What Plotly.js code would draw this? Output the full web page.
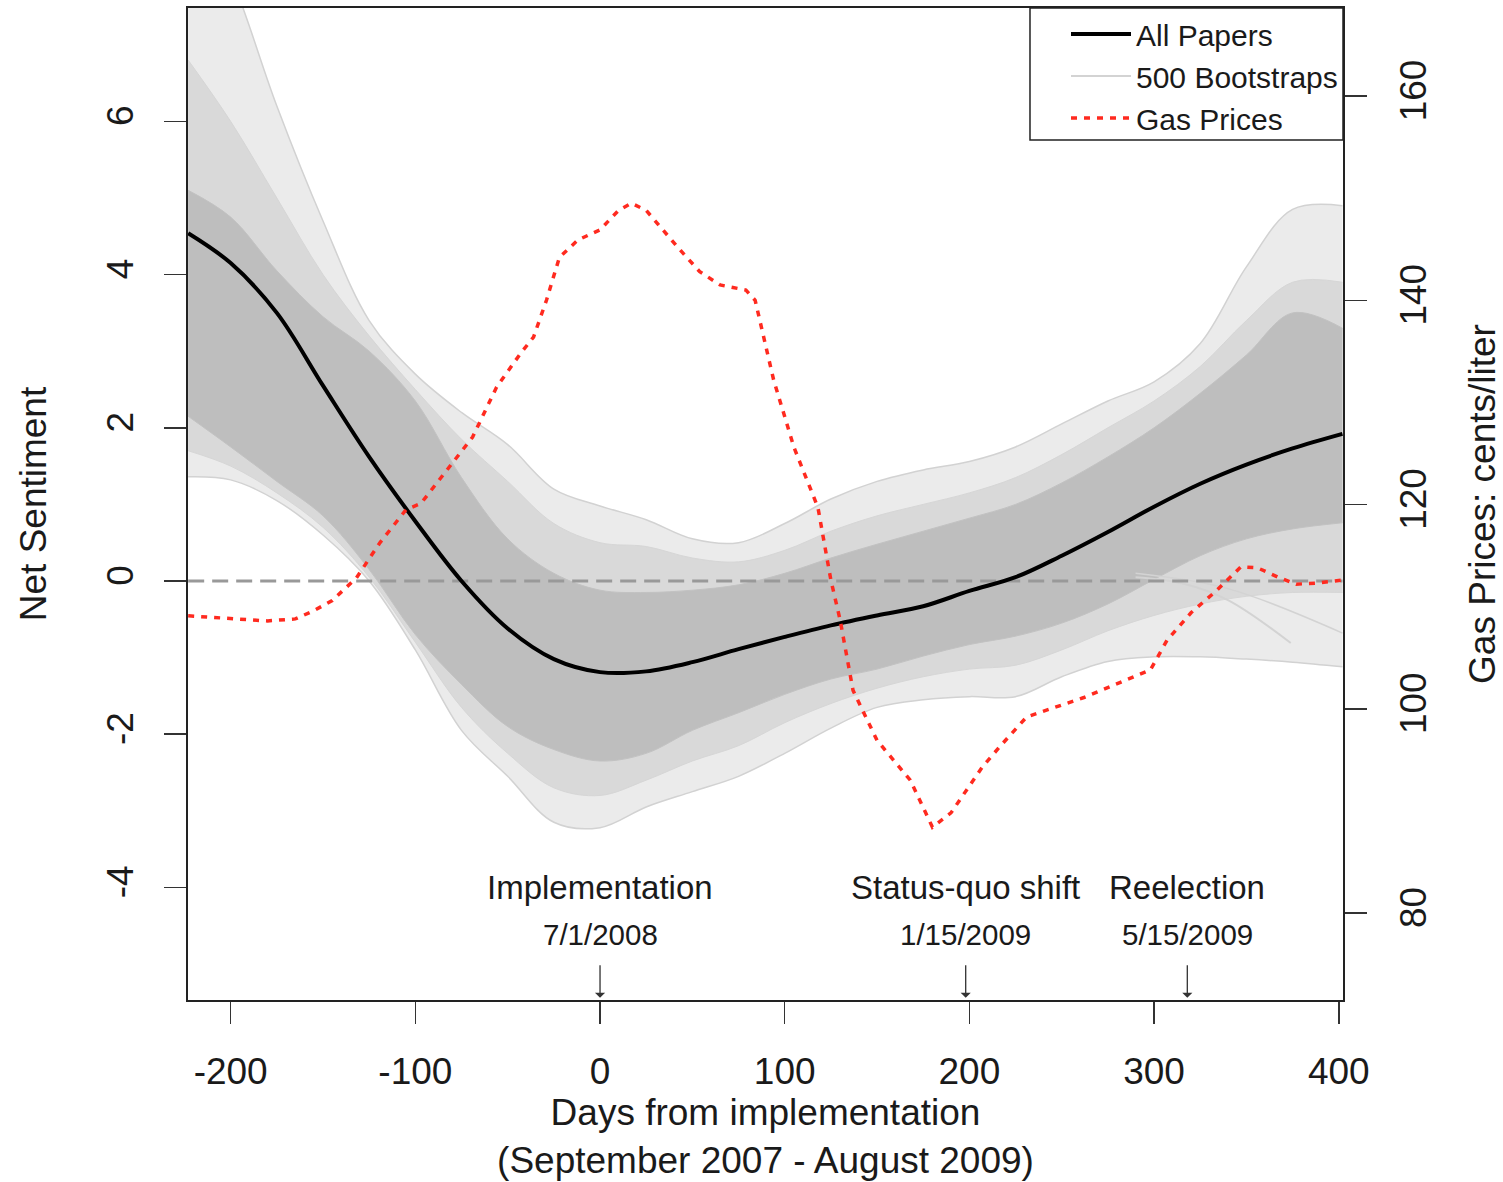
<!DOCTYPE html>
<html>
<head>
<meta charset="utf-8">
<script src="https://cdn.plot.ly/plotly-3.0.1.min.js"></script>
<style>html,body{margin:0;padding:0;background:#fff;}#chart{width:1503px;height:1182px;}</style>
</head>
<body>
<div id="chart"></div>
<script>
// ---- Data ----
// Common day grid (days from implementation)
var dayGrid = [-223, -200, -175, -150, -125, -100, -75, -50, -25, 0, 25, 50, 75, 100, 125, 150, 175, 200, 225, 250, 275, 300, 325, 350, 375, 402];

// "All Papers" smoothed net sentiment
var allPapers = [4.54, 4.15, 3.50, 2.55, 1.62, 0.78, 0.00, -0.62, -1.02, -1.19, -1.18, -1.06, -0.89, -0.73, -0.58, -0.45, -0.33, -0.13, 0.05, 0.33, 0.64, 0.97, 1.27, 1.52, 1.73, 1.92];

// Bootstrap curves: envelopes of the dense core, of the fairly dense light curves, and of the outermost curves
var bootCoreUpper  = [5.10, 4.75, 4.05, 3.45, 3.00, 2.35, 1.35, 0.55, 0.10, -0.12, -0.15, -0.12, -0.05, 0.10, 0.30, 0.48, 0.65, 0.82, 1.00, 1.28, 1.62, 2.00, 2.45, 2.95, 3.50, 3.30];
var bootCoreLower  = [2.15, 1.75, 1.30, 0.85, 0.15, -0.70, -1.35, -1.90, -2.20, -2.35, -2.25, -1.95, -1.72, -1.48, -1.28, -1.15, -0.98, -0.83, -0.72, -0.55, -0.30, 0.02, 0.33, 0.55, 0.68, 0.76];
var bootMidUpper   = [6.80, 6.00, 5.00, 4.00, 3.20, 2.50, 1.85, 1.30, 0.75, 0.50, 0.45, 0.30, 0.25, 0.40, 0.65, 0.85, 1.00, 1.15, 1.35, 1.65, 2.00, 2.35, 2.80, 3.40, 3.90, 3.90];
var bootMidLower   = [1.70, 1.50, 1.15, 0.70, 0.05, -0.80, -1.65, -2.25, -2.70, -2.80, -2.60, -2.35, -2.15, -1.85, -1.60, -1.40, -1.25, -1.15, -1.10, -0.90, -0.65, -0.45, -0.30, -0.20, -0.15, -0.15];
var bootOuterUpper = [9.00, 7.90, 6.20, 4.70, 3.40, 2.70, 2.20, 1.78, 1.20, 0.98, 0.80, 0.55, 0.50, 0.75, 1.07, 1.30, 1.45, 1.56, 1.75, 2.05, 2.35, 2.60, 3.10, 4.10, 4.85, 4.90];
var bootOuterLower = [1.36, 1.32, 1.05, 0.60, 0.00, -0.90, -1.95, -2.55, -3.15, -3.22, -2.95, -2.75, -2.55, -2.25, -1.92, -1.65, -1.55, -1.51, -1.51, -1.25, -1.05, -0.99, -0.99, -1.02, -1.06, -1.12];

// A few individual bootstrap curves visible at the right edge
var bootA_days = [290, 315, 340, 374];
var bootA_vals = [0.05, -0.03, -0.25, -0.81];
var bootB_days = [290, 340, 402];
var bootB_vals = [0.10, -0.10, -0.68];

// Gas prices (cents/liter)
var gasDays  = [-223, -200, -180, -165, -155, -145, -132, -119, -105, -97, -83, -69, -56, -43, -36, -29, -22, -12, 0, 10, 17, 25, 43, 54, 65, 79, 84, 90, 94, 105, 118, 125, 130, 137, 150, 168, 180, 190, 207, 217, 231, 262, 289, 298, 307, 320, 334, 347, 356, 367, 377, 388, 402];
var gasPrice = [109.1, 108.8, 108.6, 108.8, 109.6, 110.6, 112.8, 116.3, 119.5, 120.1, 123.4, 126.6, 131.5, 134.8, 136.4, 140.0, 144.2, 145.9, 146.9, 148.8, 149.5, 148.8, 145.0, 142.8, 141.5, 141.0, 140.0, 135.5, 132.2, 125.6, 119.7, 112.6, 108.7, 101.8, 96.9, 93.0, 88.4, 89.8, 94.3, 96.4, 99.2, 101.1, 103.1, 103.8, 106.7, 109.4, 111.6, 113.9, 113.8, 112.9, 112.2, 112.3, 112.6];

// Events
var eventDays   = [0, 198, 318];
var eventNames  = ['Implementation', 'Status-quo shift', 'Reelection'];
var eventDates  = ['7/1/2008', '1/15/2009', '5/15/2009'];

// Axis ticks (labels with plain hyphen minus, as in the original)
var xTicks  = [-200, -100, 0, 100, 200, 300, 400];
var xTickText = ['-200', '-100', '0', '100', '200', '300', '400'];
var yTicks  = [-4, -2, 0, 2, 4, 6];
var yTickText = ['-4', '-2', '0', '2', '4', '6'];
var y2Ticks = [80, 100, 120, 140, 160];

// ---- Plot ----
var FONT = 'Liberation Sans, Arial, Helvetica, sans-serif';
var TXT = '#1a1a1a';

function band(lower, upper, lineColor, fillColor, w) {
  return [
    {x: dayGrid, y: lower, mode: 'lines', line: {color: lineColor, width: w, shape: 'spline'}, showlegend: false, hoverinfo: 'skip'},
    {x: dayGrid, y: upper, mode: 'lines', line: {color: lineColor, width: w, shape: 'spline'}, fill: 'tonexty', fillcolor: fillColor, showlegend: false, hoverinfo: 'skip'}
  ];
}

var traces = [];
traces = traces.concat(band(bootOuterLower, bootOuterUpper, '#d2d2d2', '#ebebeb', 1.5));
traces = traces.concat(band(bootMidLower, bootMidUpper, '#d6d6d6', '#d9d9d9', 1));
traces = traces.concat(band(bootCoreLower, bootCoreUpper, '#c2c2c2', '#bebebe', 1));
// individual bootstrap curves
traces.push({x: bootA_days, y: bootA_vals, mode: 'lines', name: '500 Bootstraps', legendrank: 2, line: {color: '#d3d3d3', width: 2, shape: 'spline'}, showlegend: true, hoverinfo: 'skip'});
traces.push({x: bootB_days, y: bootB_vals, mode: 'lines', line: {color: '#d3d3d3', width: 1.5, shape: 'spline'}, showlegend: false, hoverinfo: 'skip'});
// zero reference line
traces.push({x: [dayGrid[0], dayGrid[dayGrid.length - 1]], y: [0, 0], mode: 'lines', line: {color: '#999999', width: 3, dash: '16px,8px'}, showlegend: false, hoverinfo: 'skip'});
// all papers
traces.push({x: dayGrid, y: allPapers, mode: 'lines', name: 'All Papers', legendrank: 1, line: {color: '#000', width: 4, shape: 'spline'}});
// gas prices
traces.push({x: gasDays, y: gasPrice, yaxis: 'y2', mode: 'lines', name: 'Gas Prices', legendrank: 3, line: {color: '#ff2a1f', width: 3.5, dash: '6px,7px'}});

var annotations = [];
for (var i = 0; i < eventDays.length; i++) {
  annotations.push({x: eventDays[i], y: -4.0, xref: 'x', yref: 'y', text: eventNames[i], showarrow: false, font: {family: FONT, size: 33, color: TXT}});
  annotations.push({x: eventDays[i], y: -4.62, xref: 'x', yref: 'y', text: eventDates[i], showarrow: false, font: {family: FONT, size: 29.5, color: TXT}});
  annotations.push({x: eventDays[i], y: -5.44, xref: 'x', yref: 'y', text: '', showarrow: true, ax: 0, ay: -34, arrowhead: 1, arrowsize: 1.3, arrowwidth: 1.3, arrowcolor: '#333'});
}

var layout = {
  width: 1503, height: 1182,
  margin: {l: 188, r: 160, t: 8, b: 182},
  paper_bgcolor: '#fff', plot_bgcolor: '#fff',
  font: {family: FONT, color: TXT},
  showlegend: true,
  legend: {x: 1, xanchor: 'right', y: 1, yanchor: 'top', bgcolor: 'rgba(0,0,0,0)', borderwidth: 0,
           font: {family: FONT, size: 30, color: TXT}, itemwidth: 60, traceorder: 'normal'},
  shapes: [
    {type: 'rect', xref: 'paper', yref: 'paper', x0: 0.729, x1: 1, y0: 0.867, y1: 1, fillcolor: '#fff', line: {color: '#222', width: 1.5}, layer: 'above'}
  ],
  xaxis: {range: [-223.1, 402.3], tickvals: xTicks, ticktext: xTickText, ticks: 'outside', ticklen: 22, tickwidth: 1.5, tickcolor: '#333',
          showline: true, linecolor: '#222', linewidth: 2, mirror: true, showgrid: false, zeroline: false,
          tickfont: {family: FONT, size: 37, color: TXT}, ticklabelstandoff: 16,
          title: {text: 'Days from implementation<br>(September 2007 - August 2009)', font: {family: FONT, size: 37, color: TXT}, standoff: 6}},
  yaxis: {range: [-5.47, 7.48], tickvals: yTicks, ticktext: yTickText, ticks: 'outside', ticklen: 22, tickwidth: 1.5, tickcolor: '#333', tickangle: -90,
          showline: true, linecolor: '#222', linewidth: 2, mirror: true, showgrid: false, zeroline: false,
          tickfont: {family: FONT, size: 37, color: TXT}, ticklabelstandoff: 16,
          title: {text: 'Net Sentiment', font: {family: FONT, size: 37, color: TXT}, standoff: 42}},
  yaxis2: {range: [71.48, 168.62], tickvals: y2Ticks, overlaying: 'y', side: 'right', ticks: 'outside', ticklen: 22, tickwidth: 1.5, tickcolor: '#333', tickangle: -90,
          showline: true, linecolor: '#222', linewidth: 2, showgrid: false, zeroline: false,
          tickfont: {family: FONT, size: 37, color: TXT}, ticklabelstandoff: 15,
          title: {text: 'Gas Prices: cents/liter', font: {family: FONT, size: 37, color: TXT}, standoff: 40}},
  annotations: annotations
};

Plotly.newPlot('chart', traces, layout, {staticPlot: true, displayModeBar: false});
</script>
</body>
</html>
